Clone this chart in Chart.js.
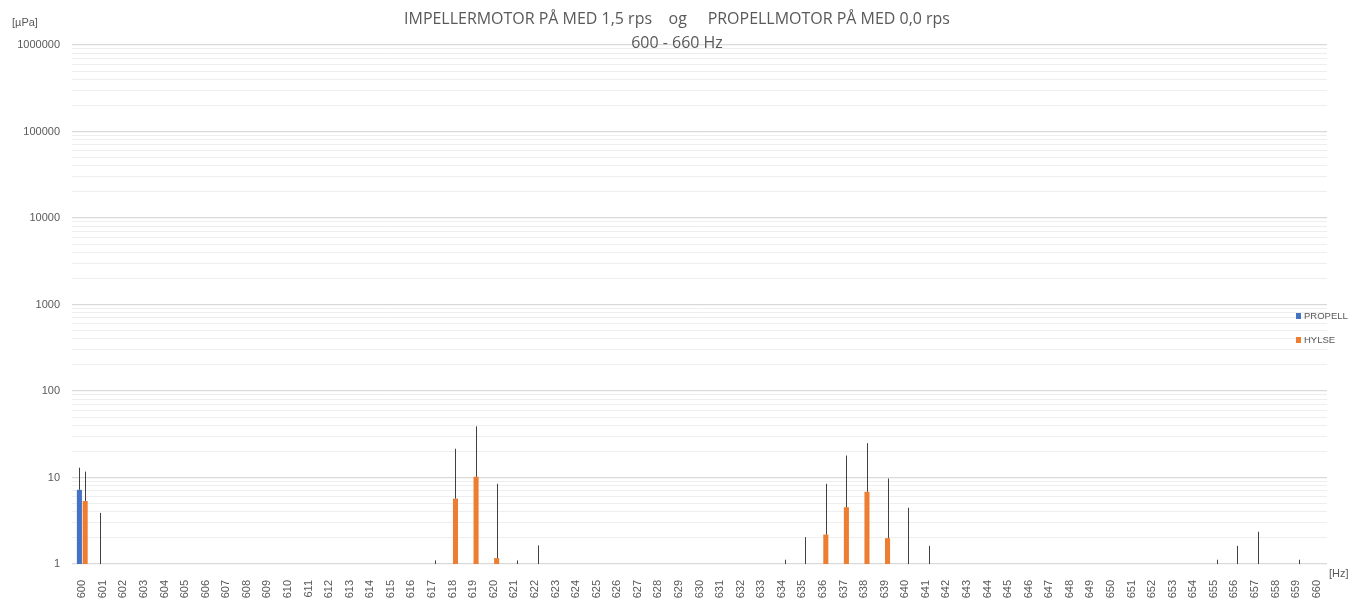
<!DOCTYPE html>
<html>
<head>
<meta charset="utf-8">
<script src="https://cdn.jsdelivr.net/npm/chart.js@4"></script>
<style>
    html, body { margin: 0; padding: 0; background: #fff; }
    #wrap { width: 1364px; height: 601px; }
</style>
</head>
<body>
<div id="wrap"><canvas id="chart"></canvas></div>
<script>
// frequencies 600 - 660 Hz
const labels = [
    "600", "601", "602", "603", "604", "605", "606", "607", "608", "609",
    "610", "611", "612", "613", "614", "615", "616", "617", "618", "619",
    "620", "621", "622", "623", "624", "625", "626", "627", "628", "629",
    "630", "631", "632", "633", "634", "635", "636", "637", "638", "639",
    "640", "641", "642", "643", "644", "645", "646", "647", "648", "649",
    "650", "651", "652", "653", "654", "655", "656", "657", "658", "659",
    "660"
];

const N = null;

const propell = [
    7.2, N, N, N, N, N, N, N, N, N,
    N, N, N, N, N, N, N, N, N, N,
    N, N, N, N, N, N, N, N, N, N,
    N, N, N, N, N, N, N, N, N, N,
    N, N, N, N, N, N, N, N, N, N,
    N, N, N, N, N, N, N, N, N, N,
    N
];

// plus error bars
const propellErr = [
    5.8, 3.9, N, N, N, N, N, N, N, N,
    N, N, N, N, N, N, N, N, N, N,
    N, N, N, N, N, N, N, N, N, N,
    N, N, N, N, N, N, N, N, N, N,
    N, N, N, N, N, N, N, N, N, N,
    N, N, N, N, N, N, N, N, N, N,
    N
];

const hylse = [
    5.35, N, N, N, N, N, N, N, N, N,
    N, N, N, N, N, N, N, N, 5.7, 10.2,
    1.17, N, N, N, N, N, N, N, N, N,
    N, N, N, N, N, N, 2.19, 4.54, 6.83, 1.99,
    N, N, N, N, N, N, N, N, N, N,
    N, N, N, N, N, N, N, N, N, N,
    N
];

const hylseErr = [
    6.35, N, N, N, N, N, N, N, N, N,
    N, N, N, N, N, N, N, 1.1, 15.8, 28.8,
    7.3, 1.1, 1.64, N, N, N, N, N, N, N,
    N, N, N, N, 1.12, 2.04, 6.27, 13.4, 18.1, 7.74,
    4.47, 1.62, N, N, N, N, N, N, N, N,
    N, N, N, N, N, 1.12, 1.62, 2.36, N, 1.12,
    N
];

const yLabels = [1, 10, 100, 1000, 10000, 100000, 1000000];

const titleLine1 = "IMPELLERMOTOR PÅ MED 1,5 rps    og     PROPELLMOTOR PÅ MED 0,0 rps";
const titleLine2 = "600 - 660 Hz";

const textColor = "#595959";

// draws the plus error bars on top of each bar
const errorBars = {
    id: "errorBars",
    afterDatasetsDraw(chart) {
        const ctx = chart.ctx;
        const yScale = chart.scales.y;
        ctx.save();
        ctx.strokeStyle = "#404040";
        ctx.lineWidth = 1;
        chart.data.datasets.forEach((ds, di) => {
            const meta = chart.getDatasetMeta(di);
            ds.errPlus.forEach((e, i) => {
                if (e == null) return;
                const v = ds.data[i] || 0;
                const x = Math.round(meta.data[i].x) + 0.5;
                const y0 = yScale.getPixelForValue(Math.max(v, 1));
                const y1 = yScale.getPixelForValue(v + e);
                ctx.beginPath();
                ctx.moveTo(x, y0);
                ctx.lineTo(x, y1);
                ctx.stroke();
            });
        });
        ctx.restore();
    }
};

// title, axis units and legend
const decorations = {
    id: "decorations",
    afterDraw(chart) {
        const ctx = chart.ctx;
        ctx.save();
        ctx.fillStyle = textColor;
        ctx.textBaseline = "middle";

        // fit title width to the original
        const fam = '"Liberation Sans Narrow", "Open Sans", sans-serif';
        ctx.font = "100px " + fam;
        const size = 100 * 546 / ctx.measureText(titleLine1).width;
        ctx.font = size.toFixed(2) + "px " + fam;
        ctx.textAlign = "center";
        ctx.fillText(titleLine1, 677, 19);
        ctx.fillText(titleLine2, 677, 43);

        ctx.font = '11px "Liberation Sans", Arial, sans-serif';
        ctx.textAlign = "left";
        ctx.fillText("[µPa]", 12, 23);
        ctx.fillText("[Hz]", 1329, 574);

        // legend
        ctx.font = '9.5px "Liberation Sans", Arial, sans-serif';
        chart.data.datasets.forEach((ds, i) => {
            const cy = 316 + i * 24;
            ctx.fillStyle = ds.backgroundColor;
            ctx.fillRect(1296, cy - 3, 5, 6);
            ctx.fillStyle = textColor;
            ctx.fillText(ds.label, 1304, cy);
        });
        ctx.restore();
    }
};

new Chart(document.getElementById("chart"), {
    type: "bar",
    data: {
        labels: labels,
        datasets: [
            { label: "PROPELL", data: propell, errPlus: propellErr, backgroundColor: "#4472C4" },
            { label: "HYLSE", data: hylse, errPlus: hylseErr, backgroundColor: "#ED7D31" }
        ]
    },
    options: {
        responsive: true,
        maintainAspectRatio: false,
        animation: false,
        layout: { padding: { left: 0, right: 37, top: 45, bottom: 0 } },
        datasets: { bar: { categoryPercentage: 0.56, barPercentage: 0.88 } },
        plugins: {
            legend: { display: false },
            title: { display: false },
            tooltip: { enabled: false }
        },
        scales: {
            x: {
                grid: { display: false },
                border: { display: false },
                ticks: {
                    minRotation: 90,
                    maxRotation: 90,
                    autoSkip: false,
                    padding: 8,
                    color: textColor,
                    font: { family: '"Liberation Sans", Arial, sans-serif', size: 11 }
                },
                afterFit(scale) { scale.height = 37; }
            },
            y: {
                type: "logarithmic",
                min: 1,
                max: 1000000,
                border: { display: false },
                grid: {
                    drawTicks: false,
                    color: c => yLabels.includes(c.tick.value) ? "#d9d9d9" : "#eeeeee",
                    lineWidth: c => yLabels.includes(c.tick.value) ? 1.3 : 1
                },
                afterBuildTicks(scale) {
                    const t = [];
                    yLabels.forEach(p => {
                        for (let m = 1; m <= 9; m++) {
                            if (m * p <= 1000000) t.push({ value: m * p });
                        }
                    });
                    scale.ticks = t;
                },
                ticks: {
                    autoSkip: false,
                    padding: 12,
                    color: textColor,
                    font: { family: '"Liberation Sans", Arial, sans-serif', size: 11 },
                    callback: v => yLabels.includes(v) ? String(v) : ""
                },
                afterFit(scale) { scale.width = 72; }
            }
        }
    },
    plugins: [errorBars, decorations]
});
</script>
</body>
</html>
